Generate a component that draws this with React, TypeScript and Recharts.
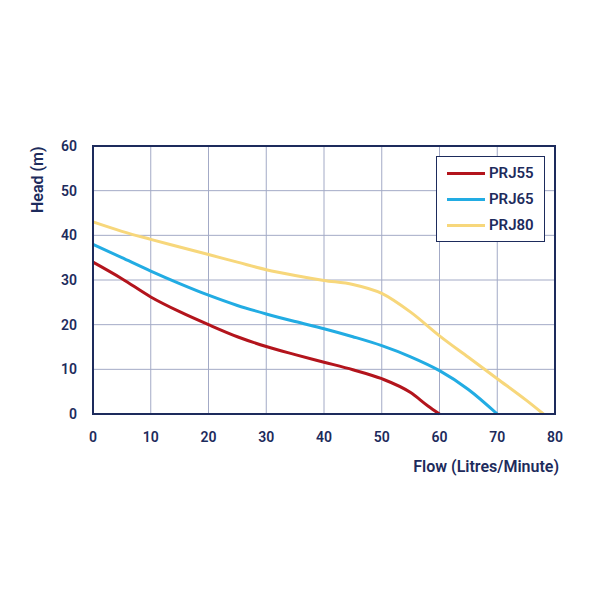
import { LineChart, Line, XAxis, YAxis, CartesianGrid, Legend, ReferenceArea } from "recharts";

const flow = [0, 5, 10, 15, 20, 25, 30, 35, 40, 45, 50, 55, 58, 60, 65, 70, 75, 78];
const prj55 = [34, 30.3, 26.2, 22.9, 20, 17.3, 15.1, 13.3, 11.6, 9.9, 7.9, 4.8, 1.8, 0, null, null, null, null];
const prj65 = [38, 35, 32, 29.2, 26.6, 24.3, 22.4, 20.7, 19.1, 17.3, 15.3, 12.8, null, 9.7, 5.5, 0, null, null];
const prj80 = [43, 40.9, 39.1, 37.4, 35.7, 34, 32.3, 31, 29.9, 29, 27, 22.8, null, 17.5, 12.7, 7.9, 3.1, 0];

const xTicks = [0, 10, 20, 30, 40, 50, 60, 70, 80];
const yTicks = [0, 10, 20, 30, 40, 50, 60];

const series = [
  { key: "prj55", name: "PRJ55", color: "#b3141c" },
  { key: "prj65", name: "PRJ65", color: "#22ace3" },
  { key: "prj80", name: "PRJ80", color: "#f7d77b" },
];

const data = flow.map((f, i) => ({ flow: f, prj55: prj55[i], prj65: prj65[i], prj80: prj80[i] }));

const navy = "#1d2b5c";
const font = "Roboto, sans-serif";

function LegendBox() {
  return (
    <div
      style={{
        border: `1.5px solid ${navy}`,
        background: "#fff",
        width: 109,
        padding: "3px 0 3px 0",
        fontFamily: font,
        boxSizing: "border-box",
      }}
    >
      {series.map((s) => (
        <div key={s.key} style={{ display: "flex", alignItems: "center", height: 26 }}>
          <div style={{ width: 38, height: 3, background: s.color, marginLeft: 10, marginRight: 4 }} />
          <span style={{ color: navy, fontSize: 15, fontWeight: 600 }}>{s.name}</span>
        </div>
      ))}
    </div>
  );
}

export default function App() {
  return (
    <div style={{ position: "absolute", left: 0, top: 0, width: 600, height: 600, background: "#fff" }}>
      <LineChart width={600} height={600} data={data} margin={{ top: 146, right: 45, bottom: 156, left: 0 }}>
        <CartesianGrid stroke="#a3aac6" strokeWidth={1} />
        <XAxis
          dataKey="flow"
          type="number"
          domain={[0, 80]}
          ticks={xTicks}
          tickLine={false}
          tickSize={0}
          tickMargin={18}
          axisLine={{ stroke: navy, strokeWidth: 2 }}
          tick={{ fill: navy, fontSize: 14, fontWeight: 600, fontFamily: font }}
          label={{
            value: "Flow (Litres/Minute)",
            position: "insideBottomRight",
            offset: 0,
            dy: 28,
            dx: 4,
            fill: navy,
            fontSize: 16,
            fontWeight: 600,
            fontFamily: font,
          }}
        />
        <YAxis
          type="number"
          domain={[0, 60]}
          ticks={yTicks}
          width={93}
          tickLine={false}
          tickSize={0}
          tickMargin={16}
          axisLine={{ stroke: navy, strokeWidth: 2 }}
          tick={{ fill: navy, fontSize: 14, fontWeight: 600, fontFamily: font }}
          label={{
            value: "Head (m)",
            angle: -90,
            position: "insideLeft",
            offset: 5,
            dx: 32,
            dy: -67,
            fill: navy,
            fontSize: 16,
            fontWeight: 600,
            fontFamily: font,
          }}
        />
        <ReferenceArea x1={0} x2={80} y1={0} y2={60} fill="none" stroke={navy} strokeWidth={2} />
        {series.map((s) => (
          <Line
            key={s.key}
            dataKey={s.key}
            name={s.name}
            type="monotone"
            stroke={s.color}
            strokeWidth={3}
            dot={false}
            connectNulls
            isAnimationActive={false}
          />
        ))}
        <Legend
          layout="vertical"
          align="center"
          verticalAlign="middle"
          content={() => <LegendBox />}
          wrapperStyle={{ position: "absolute", left: 436, top: 156, width: "auto", height: "auto" }}
        />
      </LineChart>
    </div>
  );
}
